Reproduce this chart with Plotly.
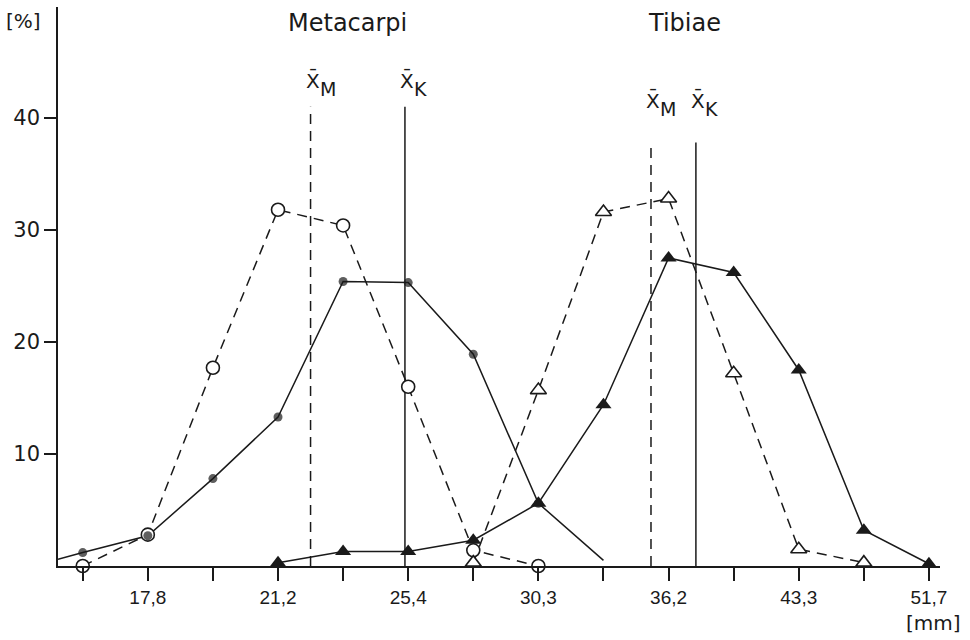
import plotly.graph_objects as go

# ---- data (category index positions along the x axis) ----
tick_labels = ["", "17,8", "", "21,2", "", "25,4", "", "30,3", "", "36,2", "", "43,3", "", "51,7"]
y_ticks = [10, 20, 30, 40]

meta_M_x = [0, 1, 2, 3, 4, 5, 6, 7]
meta_M = [0.0, 2.8, 17.7, 31.8, 30.4, 16.0, 1.4, 0.0]

meta_K_x = [-0.38, 0, 1, 2, 3, 4, 5, 6, 7, 8]
meta_K = [0.6, 1.2, 2.7, 7.8, 13.3, 25.4, 25.3, 18.9, 5.6, 0.5]
meta_K_marker = [0, 9, 9, 9, 9, 9, 9, 9, 9, 0]

tib_M_x = [6, 7, 8, 9, 10, 11, 12]
tib_M = [0.3, 15.7, 31.6, 32.8, 17.2, 1.5, 0.3]

tib_K_x = [3, 4, 5, 6, 7, 8, 9, 10, 11, 12, 13]
tib_K = [0.3, 1.3, 1.3, 2.3, 5.6, 14.4, 27.5, 26.2, 17.5, 3.2, 0.2]

mean_pos = [3.50, 4.95, 8.73, 9.42]
mean_top = [41.0, 41.0, 37.8, 37.8]
mean_label_y = [43.0, 43.0, 41.2, 41.2]
mean_names = ["M", "K", "M", "K"]
mean_dash = ["10px,7px", "solid", "10px,7px", "solid"]

titles = ["Metacarpi", "Tibiae"]
title_x = [4.07, 9.25]

BLACK = "#1a1a1a"
DASH = "10px,7px"
FONT = "DejaVu Sans"

W, H = 970, 640
ml, mr, mt, mb = 58, 30, 7, 74
pw, ph = W - ml - mr, H - mt - mb


def px2paper(xp, yp):
    return (xp - ml) / pw, 1 - (yp - mt) / ph


fig = go.Figure()

# mean lines
for p, t, d in zip(mean_pos, mean_top, mean_dash):
    fig.add_trace(go.Scatter(x=[p, p], y=[0, t], mode="lines",
                             line=dict(color=BLACK, width=1.5, dash=d),
                             hoverinfo="skip", showlegend=False))

# connecting lines
fig.add_trace(go.Scatter(x=meta_M_x, y=meta_M, mode="lines",
                         line=dict(color=BLACK, width=1.5, dash=DASH), showlegend=False))
fig.add_trace(go.Scatter(x=meta_K_x, y=meta_K, mode="lines",
                         line=dict(color=BLACK, width=1.5), showlegend=False))
fig.add_trace(go.Scatter(x=tib_M_x, y=tib_M, mode="lines",
                         line=dict(color=BLACK, width=1.5, dash=DASH), showlegend=False))
fig.add_trace(go.Scatter(x=tib_K_x, y=tib_K, mode="lines",
                         line=dict(color=BLACK, width=1.5), showlegend=False))

# markers
fig.add_trace(go.Scatter(x=meta_M_x, y=meta_M, mode="markers", cliponaxis=False,
                         marker=dict(symbol="circle", size=13, color="white",
                                     line=dict(color=BLACK, width=1.6)), showlegend=False))
fig.add_trace(go.Scatter(x=meta_K_x, y=meta_K, mode="markers", cliponaxis=False,
                         marker=dict(symbol="circle", size=meta_K_marker, color=BLACK,
                                     line=dict(width=0)), showlegend=False))
fig.add_trace(go.Scatter(x=tib_M_x, y=tib_M, mode="markers", cliponaxis=False,
                         marker=dict(symbol="triangle-up", size=14, color="white",
                                     line=dict(color=BLACK, width=1.6)), showlegend=False))
fig.add_trace(go.Scatter(x=tib_K_x, y=tib_K, mode="markers", cliponaxis=False,
                         marker=dict(symbol="triangle-up", size=14, color=BLACK,
                                     line=dict(width=0)), showlegend=False))

# mean labels: X-bar with subscript
for p, ly, n in zip(mean_pos, mean_label_y, mean_names):
    fig.add_annotation(x=p, y=ly, xref="x", yref="y", xanchor="left", yanchor="middle",
                       xshift=-7, yshift=4, showarrow=False, text="X\u0304",
                       font=dict(family=FONT, size=20, color=BLACK))
    fig.add_annotation(x=p, y=ly, xref="x", yref="y", xanchor="left", yanchor="middle",
                       xshift=7, yshift=-5, showarrow=False, text=n,
                       font=dict(family=FONT, size=19, color=BLACK))

# panel titles
for t, tx in zip(titles, title_x):
    fig.add_annotation(x=tx, y=1.0, xref="x", yref="paper", yshift=-16,
                       xanchor="center", yanchor="middle", showarrow=False,
                       text=t, font=dict(family=FONT, size=24, color=BLACK))

# axis unit labels
ax_, ay_ = px2paper(23, 21)
bx_, by_ = px2paper(933, 623)
fig.add_annotation(x=ax_, y=ay_, xref="paper", yref="paper", showarrow=False,
                   xanchor="center", yanchor="middle", text="[%]",
                   font=dict(family=FONT, size=20, color=BLACK))
fig.add_annotation(x=bx_, y=by_, xref="paper", yref="paper", showarrow=False,
                   xanchor="center", yanchor="middle", text="[mm]",
                   font=dict(family=FONT, size=20, color=BLACK))

fig.update_layout(
    width=W, height=H,
    margin=dict(l=ml, r=mr, t=mt, b=mb, pad=0),
    paper_bgcolor="white", plot_bgcolor="white",
    showlegend=False,
    xaxis=dict(range=[-0.38, 13.17], tickmode="array", tickvals=list(range(len(tick_labels))),
               ticktext=tick_labels, ticks="outside", ticklen=13, tickwidth=1.5,
               tickcolor=BLACK, showline=True, linecolor=BLACK, linewidth=1.5,
               showgrid=False, zeroline=False,
               tickfont=dict(family="Liberation Sans", size=19, color=BLACK)),
    yaxis=dict(range=[0, 49.9], tickmode="array", tickvals=y_ticks,
               ticks="outside", ticklen=12, tickwidth=1.5, tickcolor=BLACK,
               showline=True, linecolor=BLACK, linewidth=1.5,
               showgrid=False, zeroline=False,
               tickfont=dict(family=FONT, size=21, color=BLACK)),
)

fig.write_html("out.html")
